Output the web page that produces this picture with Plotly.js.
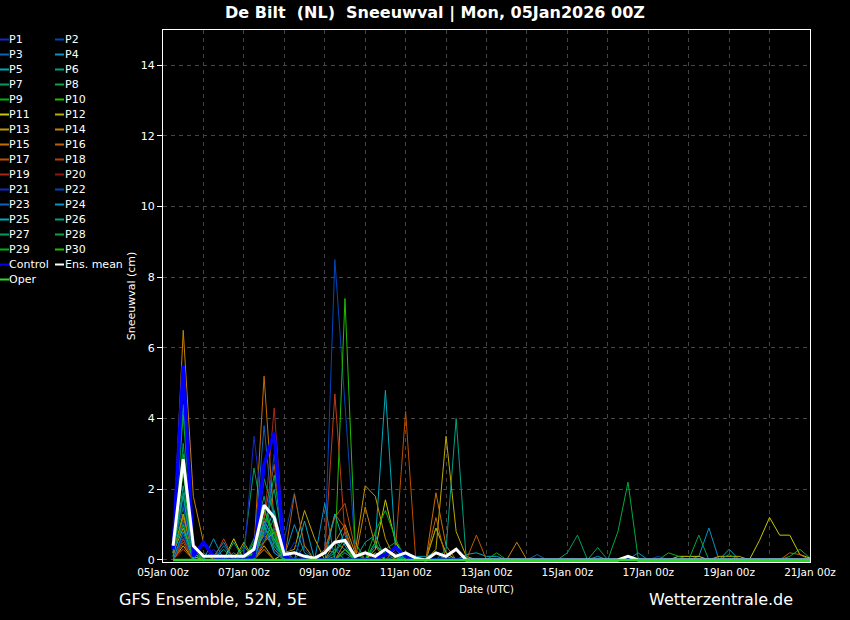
<!DOCTYPE html>
<html><head><meta charset="utf-8">
<script src="https://cdn.plot.ly/plotly-3.0.1.min.js"></script>
<style>html,body{margin:0;padding:0;background:#000;}#chart{width:850px;height:620px;}</style>
</head><body><div id="chart"></div>
<script>
// ---- time axis ----
const runStartUTC = [2026, 0, 5];
const stepHours = 6;
const stepsCount = 64;
const xRange = ['2026-01-05 00:00', '2026-01-21 00:00'];
const xTickFormat = '%d%b %Hz';

// ---- series (cm per 6h step, from +6h to +384h) ----
const P1  = [0.2,1.0,0.1,0,0.3,0,0,0,  0.5,1.2,0.3,0,0.2,0,0,0,  0.3,0.2,0,0,0,0.1,0.2,0,  0,0,0,0,0,0,0,0,  0,0,0,0,0,0,0,0,  0,0,0,0,0,0,0,0,  0,0,0,0,0,0,0,0,  0,0,0,0,0,0,0,0];
const P2  = [0.1,0.8,0.2,0,0,0,0,0,  0.4,1.0,0.2,0.6,1.9,0.3,0,0.2,  8.5,4.3,0.3,0,0,0,0,0,  0,0,0,0,0,0,0,0,  0,0,0,0,0,0,0,0,  0,0,0,0,0,0,0,0,  0,0,0,0,0,0,0,0,  0,0,0,0,0,0,0,0];
const P3  = [0.3,1.0,0,0.2,0,0.4,0,0,  0.2,0.9,0.5,0,0,0,0,0,  0,0.3,0,0,0,0,0.1,0,  0,0,0,0,0,0,0,0,  0,0,0,0,0.15,0,0,0,  0,0,0,0,0,0,0,0,  0,0,0,0,0,0,0,0,  0,0,0,0,0,0,0,0];
const P4  = [0,0.6,0,0.5,0.1,0.5,0,0,  0.3,0.7,0.4,0.1,1.0,0.2,0,0.3,  0.2,0.8,0,0,0,0,0,0,  0,0,0,0,0,0,0,0,  0,0,0,0,0,0,0,0,  0,0,0.1,0,0,0,0.2,0,  0,0,0,0,0.1,0.9,0,0,  0,0,0,0,0,0,0,0];
const P5  = [0.5,4.4,0.3,0,0,0,0,0.1,  0.2,0.7,1.4,0.2,0,1.1,0,0,  0.3,0,0,0,0,0,0,0.1,  0,0,0,0.1,0,0.15,0.2,0.1,  0.1,0,0,0,0,0,0,0,  0,0,0,0,0,0,0,0,  0,0,0,0,0,0,0,0.3,  0,0,0,0,0,0,0,0];
const P6  = [0.2,2.1,0.2,0,0,0.3,0,0,  0.6,1.8,0.5,0.1,0,0,0,0.3,  0.5,0.3,0,0,0.4,0.2,0.1,0,  0,0,0,0,0,0,0,0,  0,0,0,0,0,0,0,0,  0,0,0,0,0,0,0,0,  0,0,0,0,0,0,0,0,  0,0,0,0,0,0,0,0];
const P7  = [0.3,1.5,0,0,0,0,0,0.3,  2.6,1.0,0.3,0,0,0.4,0,0,  0,0,0,0,0,0,0,0,  0,0,0,0,0,0,0,0,  0,0,0,0,0,0,0,0.2,  0.7,0,0.35,0,0,0,0,0,  0,0,0,0,0,0,0,0,  0,0,0,0,0,0,0,0];
const P8  = [0.4,2.6,0.1,0,0,0,0.2,0,  0.1,0.8,2.4,0.2,0,0,0,0,  0.2,0.6,0,0,0,0.3,0.5,0.1,  0,0,0,0,0,0,0,0,  0,0,0,0,0,0,0,0,  0,0,0,0,0.8,2.2,0.05,0,  0,0,0,0,0,0,0,0,  0,0,0,0,0,0,0,0];
const P9  = [0.3,4.1,0.2,0,0,0,0,0,  0.3,0.5,1.2,0,0,0,0,0,  0,0,0.2,0,0,0.2,0,0,  0,0,0.9,0.2,0,0,0,0,  0.2,0,0,0,0,0,0,0,  0,0,0,0,0,0,0,0,  0,0,0,0,0,0,0,0,  0,0,0,0,0,0.1,0.3,0.05];
const P10 = [0.2,1.3,0,0,0,0,0,0,  0.2,0.9,0.6,0,0,0,0,0,  0.1,7.4,0.5,0,0,0,0,0,  0,0,0,0,0,0,0,0,  0,0,0,0,0,0,0,0,  0,0,0,0,0,0,0,0,  0,0,0,0,0,0,0,0,  0,0,0,0,0,0,0,0];
const P11 = [0,0.4,0,0,0,0,0.6,0,  0,0.3,0,0.2,0,0,0,0,  0,0,0,0,0.3,1.7,0.5,0,  0,0,0,0,0,0,0,0,  0,0,0,0,0,0,0,0,  0,0,0,0,0,0,0,0,  0,0,0.1,0.1,0.1,0,0,0,  0,0,0.55,1.2,0.7,0.7,0.15,0.05];
const P12 = [0.2,0.9,0.1,0,0,0,0,0,  0,0.4,0,0.2,0.3,1.4,0.6,0,  0,0,0,0,0.2,0,0,0,  0,0,0.3,3.5,0.8,0.1,0,0,  0,0,0,0,0,0,0,0,  0,0,0,0,0,0,0,0,  0,0,0,0,0,0,0.1,0.1,  0.1,0,0,0,0,0,0,0];
const P13 = [0.1,1.3,0.2,0,0,0,0,0.5,  0,0.5,0.8,0,0,0,0,0,  0.5,1.0,0.2,2.1,1.8,0.6,0,0,  0,0,0.9,0.2,0,0,0,0,  0,0,0,0,0,0,0,0,  0,0,0,0,0,0,0,0,  0,0,0,0,0,0,0,0,  0,0,0,0,0,0,0,0];
const P14 = [0.4,6.5,1.8,0.5,0,0,0,0,  0,0.3,0,0,0,0,0,0,  0,0.5,0,1.5,0.4,0,0,0,  0,0,0,0,0,0,0,0,  0,0,0.5,0,0,0,0,0,  0,0,0,0,0,0,0,0,  0,0,0,0,0,0,0,0,  0,0,0,0,0,0,0,0];
const P15 = [0.2,1.2,0.2,0,0,0,0,0,  0.3,5.2,1.0,0,0,0,0,0,  0,0.3,0,0,0,0,0,0,  0,0,1.9,0.4,0,0,0,0,  0,0,0,0,0,0,0,0,  0,0,0,0,0,0,0,0,  0,0,0,0,0,0,0,0,  0,0,0,0,0,0,0,0];
const P16 = [0.1,0.3,0,0,0,0,0,0,  0,0.8,0.3,0,1.85,0.4,0,0.2,  1.3,0.9,0,0,0,0,0,0,  0,0,1.2,0,0,0,0.7,0,  0,0,0,0,0,0,0,0,  0,0,0,0,0,0,0,0,  0,0,0,0,0,0,0,0,  0,0,0,0,0,0.2,0.15,0];
const P17 = [0,0.5,0,0,0,0,0,0,  0,1.2,2.7,0.2,0,0,0,0.3,  1.2,1.6,0.3,0,0,0,0.3,4.2,  0,0,0,0,0,0,0,0,  0,0,0,0,0,0,0,0,  0,0,0,0,0,0,0,0,  0,0,0,0,0,0,0,0,  0,0,0,0,0,0,0,0];
const P18 = [0,0.6,0,0,0,0.6,0,0,  0,0.5,0.9,0,0,0,0,0.2,  4.7,0.7,0,0,0,0,0,0,  0,0,0,0,0,0,0,0,  0,0,0,0,0,0,0,0,  0,0,0,0,0,0,0,0,  0,0,0,0,0,0,0,0,  0,0,0,0,0,0,0,0];
const P19 = [0,0.6,0,0,0,0,0,0,  0,1.0,4.3,0.3,0,0,0,0,  0,0,0,0,0,0,0,0,  0,0,0,0,0,0,0,0,  0,0,0,0,0,0,0,0,  0,0,0,0,0,0,0,0,  0,0,0,0,0,0,0,0,  0,0,0,0,0,0,0,0];
const P20 = [0,0.3,0.5,0,0,0,0,0,  0,0.3,0,0,0,0,0,0,  0,0,0,0,0,0,0,0,  0,0,0,0,0,0,0,0,  0,0,0,0,0,0,0,0,  0,0,0,0,0,0,0,0,  0,0,0,0,0,0,0,0,  0,0,0,0,0,0,0,0];
const P21 = [0.3,1.6,0,0,0,0,0,0,  3.5,1.0,0.2,0,0.5,0,0,0,  0,0,0,0,0,0,0,0,  0,0,0,0,0,0,0,0,  0,0,0,0,0,0,0,0,  0,0,0,0,0,0,0,0,  0,0,0,0,0,0,0,0,  0,0,0,0,0,0,0,0];
const P22 = [0,0.7,0,0,0,0,0,0,  0,0.6,3.0,0,0,0,0,0,  0,0,0,0,0,0,0.2,0,  0,0,0,0,0,0,0,0,  0,0,0,0,0,0,0,0,  0,0,0,0,0,0,0,0,  0.1,0,0,0,0,0,0,0,  0,0,0,0,0,0,0,0];
const P23 = [0.2,1.1,0,0,0,0,0,0,  0.3,3.8,0.8,0,0,0,0,0,  0,0,0,0,0,0,0,0,  0,0,0,0,0,0,0,0,  0,0,0,0,0,0,0,0,  0,0,0,0,0,0,0,0,  0,0,0,0,0,0,0,0,  0,0,0,0,0,0,0,0];
const P24 = [0,0.8,0,0,0.6,0,0,0,  0.4,1.0,0.2,0,0,0,0,1.6,  0,0,0,0,0,0,0,0.2,  0.1,0.1,0.2,0,0,0,0,0,  0,0,0,0,0,0,0,0,  0,0,0,0,0,0,0,0,  0,0,0,0,0,0,0,0,  0,0,0,0,0,0,0,0];
const P25 = [0.3,1.8,0,0,0,0,0,0,  0,1.1,0.6,0,0,0,0,0,  1.3,0.4,0,0,0.5,4.8,0.3,0,  0,0,0,0,0,0,0,0,  0,0,0,0,0,0,0,0,  0,0,0,0,0,0,0,0,  0,0,0,0,0,0,0,0,  0,0,0,0,0,0,0,0];
const P26 = [0.2,1.9,0,0,0,0,0.5,0,  0,0.9,2.0,0.3,0,0,0,0,  0,0,0,0.5,0.7,0,0,0.1,  0,0,0,0.3,4.0,0,0,0,  0,0,0,0,0,0,0,0,  0,0,0,0,0,0,0,0,  0,0,0,0,0,0,0,0,  0,0,0,0,0,0,0,0];
const P27 = [0.2,3.3,0.2,0,0,0,0,0,  0.2,2.3,1.3,0,0,0,0,0,  0,0,0,0,0,0,0,0,  0,0,0,0,0,0,0,0,  0,0,0,0,0,0,0,0,  0,0,0,0,0,0,0,0,  0,0,0,0,0,0,0,0,  0,0,0,0,0,0,0,0];
const P28 = [0.1,3.0,0.3,0,0,0,0,0.4,  0,1.5,0.4,0,0,0,0,0,  0,0.2,0,0,0.5,0,0,0,  0,0,0,0,0,0,0,0,  0,0,0,0,0,0,0,0,  0,0,0,0,0,0,0,0,  0,0,0,0,0.7,0,0,0.15,  0,0,0,0,0,0,0,0];
const P29 = [0.3,1.0,0,0,0,0,0,0,  0.5,1.2,0.8,0,0,0,0,0,  0,0.3,0,0,0.8,1.4,0.6,0,  0,0,0,0,0,0,0,0,  0,0,0,0,0,0,0,0,  0,0,0,0,0,0,0,0,  0,0.2,0.1,0,0,0,0,0,  0,0,0,0,0,0,0,0];
const P30 = [0.2,2.5,0,0,0,0,0,0,  0.3,1.4,0.7,0,0,0,0,0,  0,0.3,0,0,0,0,0,0,  0,0,0,0,0,0,0,0,  0,0,0,0,0,0,0,0,  0,0,0,0,0,0,0,0,  0,0,0,0,0,0,0,0,  0,0,0,0,0,0,0,0];
const Control = [0.3,5.5,0.1,0.5,0.1,0,0,0,  0.1,2.7,3.6,0.1,0,0,0,0,  0,0,0,0,0.05,0.15,0.35,0.1,  0,0,0,0,0,0,0,0,  0,0,0,0,0,0,0,0,  0,0,0,0,0,0,0,0,  0,0,0,0,0,0,0,0,  0,0,0,0,0,0,0,0];
const EnsMean = [0.4,2.85,0.4,0.1,0.1,0.1,0.1,0.1,  0.3,1.55,1.2,0.15,0.2,0.1,0.05,0.2,  0.5,0.55,0.1,0.2,0.1,0.3,0.1,0.2,  0.05,0,0.2,0.1,0.3,0,0,0,  0,0,0,0,0,0,0,0,  0,0,0,0,0,0.1,0,0,  0,0,0,0,0,0,0,0,  0,0,0,0,0,0,0,0];
const Oper = [0,0,0,0,0,0,0,0,  0,0,0,0,0,0,0,0,  0,0,0,0,0,0,0,0,  0,0,0,0,0,0,0,0,  0,0,0,0,0,0,0,0,  0,0,0,0,0,0,0,0,  0,0,0,0,0,0,0,0,  0,0,0,0,0,0,0,0];

const memberNames = ['P1','P2','P3','P4','P5','P6','P7','P8','P9','P10','P11','P12','P13','P14','P15','P16','P17','P18','P19','P20','P21','P22','P23','P24','P25','P26','P27','P28','P29','P30'];
const memberValues = [P1,P2,P3,P4,P5,P6,P7,P8,P9,P10,P11,P12,P13,P14,P15,P16,P17,P18,P19,P20,P21,P22,P23,P24,P25,P26,P27,P28,P29,P30];

// ---- styles ----
const palette20 = ['rgb(20,40,200)','rgb(0,70,190)','rgb(10,100,190)','rgb(0,150,200)','rgb(0,170,185)','rgb(0,160,130)','rgb(0,160,90)','rgb(0,170,60)','rgb(0,180,20)','rgb(30,190,0)',
  'rgb(200,200,0)','rgb(190,170,0)','rgb(195,150,0)','rgb(200,130,0)','rgb(200,110,0)','rgb(190,95,0)','rgb(190,80,0)','rgb(190,60,20)','rgb(170,40,20)','rgb(150,20,20)'];
const memberColors = memberNames.map((_, i) => palette20[i < 20 ? i : i - 20]);
const controlColor = 'rgb(0,0,255)';
const meanColor = '#ffffff';
const operColor = 'rgb(40,220,40)';
const gridColor = 'rgb(70,70,70)';
const FONT = 'DejaVu Sans, Verdana, sans-serif';

// ---- build x values ----
function fmt(ms) {
  const d = new Date(ms), p = n => String(n).padStart(2, '0');
  return d.getUTCFullYear() + '-' + p(d.getUTCMonth() + 1) + '-' + p(d.getUTCDate()) + ' ' + p(d.getUTCHours()) + ':00';
}
const base = Date.UTC(runStartUTC[0], runStartUTC[1], runStartUTC[2]);
const times = Array.from({length: stepsCount}, (_, j) => fmt(base + (j + 1) * stepHours * 3600000));

const traces = memberValues.map((vals, i) => ({
  x: times, y: vals, type: 'scatter', mode: 'lines', name: memberNames[i],
  line: {color: memberColors[i], width: 1}, hoverinfo: 'skip'
}));
traces.push({x: times, y: Control, type: 'scatter', mode: 'lines', name: 'Control', line: {color: controlColor, width: 3.5}});
traces.push({x: times, y: EnsMean, type: 'scatter', mode: 'lines', name: 'Ens. mean', line: {color: meanColor, width: 3}});
traces.push({x: times, y: Oper, type: 'scatter', mode: 'lines', name: 'Oper', line: {color: operColor, width: 2.5}});

// ---- geometry helpers (pixel -> paper) ----
const W = 850, H = 620, M = {l: 163, r: 40, t: 30, b: 58};
const PW = W - M.l - M.r, PH = H - M.t - M.b;
const px = v => (v - M.l) / PW;
const py = v => (H - M.b - v) / PH;

// ---- manual two-column legend ----
const legendCols = [[], []];
memberNames.forEach((n, i) => legendCols[i % 2].push({name: n, color: memberColors[i]}));
legendCols[0].push({name: 'Control', color: controlColor});
legendCols[1].push({name: 'Ens. mean', color: meanColor});
legendCols[0].push({name: 'Oper', color: operColor});
const colX = [[0, 9, 8], [55, 64, 63.5]];
const shapes = [], annotations = [];
legendCols.forEach((col, c) => col.forEach((it, r) => {
  const yy = 39.5 + 15 * r;
  shapes.push({type: 'line', xref: 'paper', yref: 'paper', x0: px(colX[c][0]), x1: px(colX[c][1]), y0: py(yy), y1: py(yy), line: {color: it.color, width: 2}});
  annotations.push({xref: 'paper', yref: 'paper', x: px(colX[c][2]), y: py(yy), xanchor: 'left', yanchor: 'middle', showarrow: false, borderpad: 0,
    text: it.name, font: {family: FONT, size: 11, color: '#fff'}});
}));
annotations.push({xref: 'paper', yref: 'paper', x: px(118), y: py(599), xanchor: 'left', yanchor: 'middle', showarrow: false, borderpad: 0,
  text: 'GFS Ensemble, 52N, 5E', font: {family: FONT, size: 16, color: '#fff'}});
annotations.push({xref: 'paper', yref: 'paper', x: px(648), y: py(599), xanchor: 'left', yanchor: 'middle', showarrow: false, borderpad: 0,
  text: 'Wetterzentrale.de', font: {family: FONT, size: 16, color: '#fff'}});

const layout = {
  width: W, height: H, margin: {l: M.l, r: M.r, t: M.t, b: M.b, pad: 0},
  paper_bgcolor: '#000', plot_bgcolor: '#000', showlegend: false,
  font: {family: FONT, color: '#fff', size: 11},
  title: {text: '<b>De Bilt \u00a0(NL) \u00a0Sneeuwval | Mon, 05Jan2026 00Z</b>', font: {family: FONT, size: 16, color: '#fff'},
    x: 435 / W, xref: 'container', xanchor: 'center', y: 1 - 12 / H, yref: 'container', yanchor: 'middle'},
  xaxis: {type: 'date', range: xRange, tick0: xRange[0], dtick: 2 * 86400000, tickformat: xTickFormat,
    showgrid: true, gridcolor: gridColor, griddash: '4px,4px', gridwidth: 1,
    minor: {dtick: 86400000, showgrid: true, gridcolor: gridColor, griddash: '4px,4px', gridwidth: 1, ticks: ''},
    showline: true, mirror: true, linecolor: '#fff', linewidth: 1, ticks: '', zeroline: false,
    tickfont: {family: FONT, size: 10.5, color: '#fff'},
    title: {text: 'Date (UTC)', font: {family: FONT, size: 10, color: '#fff'}, standoff: 9}},
  yaxis: {range: [-0.06, 15], tick0: 0, dtick: 2, showgrid: true, gridcolor: gridColor, griddash: '4px,4px', gridwidth: 1,
    showline: true, mirror: true, linecolor: '#fff', linewidth: 1, ticks: 'outside', ticklen: 5, tickcolor: '#fff', zeroline: false,
    tickfont: {family: FONT, size: 11, color: '#fff'},
    title: {text: 'Sneeuwval (cm)', font: {family: FONT, size: 11, color: '#fff'}, standoff: 2}},
  shapes: shapes, annotations: annotations
};

Plotly.newPlot('chart', traces, layout, {displayModeBar: false, staticPlot: true});
</script>
</body></html>
